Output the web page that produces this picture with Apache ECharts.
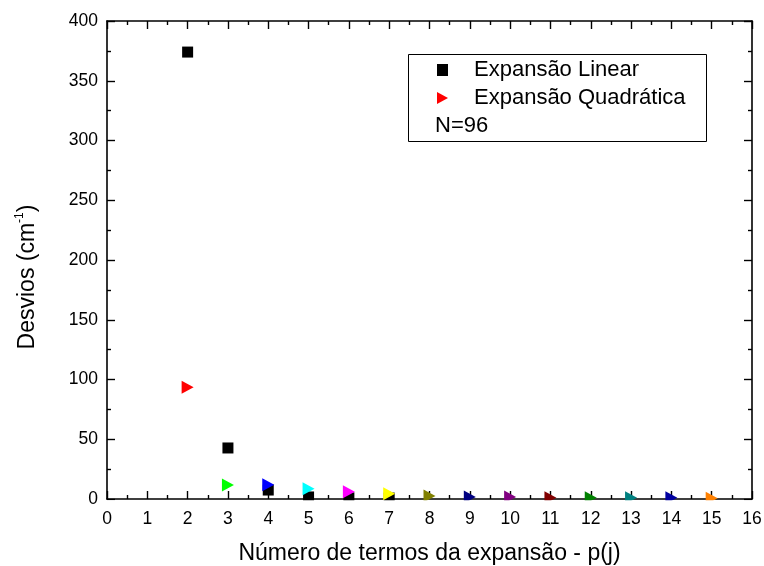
<!DOCTYPE html>
<html>
<head>
<meta charset="utf-8">
<script src="https://cdn.jsdelivr.net/npm/echarts@6/dist/echarts.min.js"></script>
<style>
html,body{margin:0;padding:0;background:#fff;}
#chart{width:764px;height:566px;}
</style>
</head>
<body>
<div id="chart"></div>
<script>
// Data
const linearX = [2, 3, 4, 5, 6, 7];
const linearY = [374, 42.7, 7.5, 1.7, 1.0, 0.8];
const quadX = [2, 3, 4, 5, 6, 7, 8, 9, 10, 11, 12, 13, 14, 15];
const quadY = [93.5, 11.8, 12.0, 8.6, 6.1, 4.3, 2.6, 1.7, 1.6, 1.1, 1.1, 1.1, 1.0, 0.7];
const quadColors = ['#FF0000', '#00FF00', '#0000FF', '#00FFFF', '#FF00FF', '#FFFF00', '#808000',
  '#000080', '#800080', '#800000', '#008000', '#008080', '#0000A0', '#FF8000'];
const seriesNames = ['Expansão Linear', 'Expansão Quadrática'];
const noteText = 'N=96';
const xTitle = 'Número de termos da expansão - p(j)';

const FONT = 'Arial, "Liberation Sans", sans-serif';
const triPath = 'path://M0,0L12,6.5L0,13Z';

const chart = echarts.init(document.getElementById('chart'), null, {renderer: 'canvas'});

const axisLineStyle = {color: '#000', width: 1.6};
function xAx(pos, showLabel) {
  return {
    type: 'value', position: pos, min: 0, max: 16, interval: 1,
    axisLine: {show: true, onZero: false, lineStyle: axisLineStyle},
    axisTick: {show: true, inside: true, length: 8, lineStyle: {color: '#000', width: 1.4}},
    minorTick: {show: true, splitNumber: 2, length: 4, lineStyle: {color: '#000', width: 1.4}},
    splitLine: {show: false},
    axisLabel: {show: showLabel, color: '#000', fontSize: 17.5, fontFamily: FONT, margin: 11},
    name: showLabel ? xTitle : '',
    nameLocation: 'middle', nameGap: 43,
    nameTextStyle: {color: '#000', fontSize: 23, fontFamily: FONT}
  };
}
function yAx(pos, showLabel) {
  return {
    type: 'value', position: pos, min: 0, max: 400, interval: 50,
    axisLine: {show: true, onZero: false, lineStyle: axisLineStyle},
    axisTick: {show: true, inside: true, length: 8, lineStyle: {color: '#000', width: 1.4}},
    minorTick: {show: true, splitNumber: 2, length: 4, lineStyle: {color: '#000', width: 1.4}},
    splitLine: {show: false},
    axisLabel: {show: showLabel, color: '#000', fontSize: 17.5, fontFamily: FONT, margin: 9},
    name: showLabel ? '{m|Desvios (cm}{s|-1}{m|)}' : '',
    nameLocation: 'middle', nameGap: 66, nameRotate: 90,
    nameTextStyle: {
      color: '#000', fontFamily: FONT, padding: [0, 34, 0, 0],
      rich: {
        m: {fontSize: 23, fontFamily: FONT, color: '#000', lineHeight: 27},
        s: {fontSize: 12, fontFamily: FONT, color: '#000', verticalAlign: 'top', lineHeight: 12}
      }
    }
  };
}

const option = {
  backgroundColor: '#fff',
  animation: false,
  grid: {left: 107, right: 12, top: 21, bottom: 67, containLabel: false, outerBoundsMode: 'none'},
  xAxis: [xAx('bottom', true), xAx('top', false)],
  yAxis: [yAx('left', true), yAx('right', false)],
  legend: {
    orient: 'vertical', left: 437, top: 58, padding: 0,
    itemWidth: 11, itemHeight: 12, itemGap: 4,
    textStyle: {color: '#000', fontSize: 22, fontFamily: FONT, lineHeight: 24, padding: [0, 0, 0, 21]},
    data: [
      {name: seriesNames[0], icon: 'rect'},
      {name: seriesNames[1], icon: triPath}
    ]
  },
  graphic: [
    {type: 'rect', left: 406, top: 52, z: 50, silent: true,
     shape: {width: 298, height: 87}, style: {fill: 'none', stroke: '#000', lineWidth: 1}},
    {type: 'text', left: 435, top: 115, z: 50, silent: true,
     style: {text: noteText, fontSize: 22, fontFamily: FONT, fill: '#000'}},
    {type: 'rect', left: 100, top: 500.3, z: 100, silent: true,
     shape: {width: 660, height: 7}, style: {fill: '#fff'}}
  ],
  series: [
    {
      name: seriesNames[0], type: 'scatter', symbol: 'rect', symbolSize: 11,
      itemStyle: {color: '#000', opacity: 1},
      data: linearX.map((x, i) => [x, linearY[i]])
    },
    {
      name: seriesNames[1], type: 'scatter', symbol: triPath, symbolSize: [12, 13],
      itemStyle: {color: '#FF0000', opacity: 1},
      data: quadX.map((x, i) => ({value: [x, quadY[i]], itemStyle: {color: quadColors[i], opacity: 1}}))
    }
  ]
};
chart.setOption(option);
</script>
</body>
</html>
